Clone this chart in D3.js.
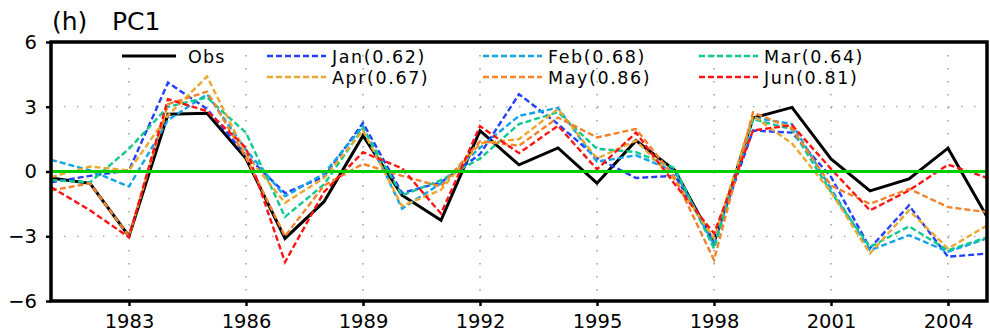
<!DOCTYPE html>
<html lang="en">
<head>
<meta charset="UTF-8">
<title>PC1</title>
<script src="https://cdn.jsdelivr.net/npm/d3@7"></script>
<style>
  body { margin: 0; background: #fff; }
  svg text { font-family: "DejaVu Sans", sans-serif; fill: #000; }
</style>
</head>
<body>
<script>
// data
var years = d3.range(1981, 2006);
var obs = [-0.3,-0.55,-3.0,2.65,2.7,0.6,-3.1,-1.4,1.66,-1.1,-2.26,1.89,0.31,1.09,-0.54,1.43,0.05,-3.3,2.48,2.97,0.58,-0.9,-0.34,1.08,-2.1];
var jan = [-0.5,-0.2,0.05,4.12,2.9,0.75,-1.0,-0.25,2.25,-1.0,-0.5,0.8,3.58,2.2,0.62,-0.3,-0.2,-3.25,1.9,1.8,-0.25,-3.55,-1.57,-3.95,-3.8];
var feb = [0.54,0.05,-0.7,2.38,3.58,1.0,-1.15,-0.1,2.1,-1.72,-0.55,1.1,2.58,2.95,0.45,0.75,0.0,-3.4,2.5,2.2,-0.8,-3.65,-2.95,-3.72,-3.1];
var mar = [-0.4,-0.5,1.05,3.0,3.43,1.8,-2.1,-0.6,2.0,-1.1,-0.4,0.6,2.2,2.75,1.05,0.9,0.15,-3.57,2.43,1.95,-0.95,-3.5,-2.54,-3.65,-3.05];
var apr = [-0.26,0.23,0.05,2.6,4.4,0.8,-1.45,-0.3,1.9,-1.6,-0.85,1.3,1.5,2.9,0.6,1.43,-0.4,-3.1,2.58,1.3,-0.95,-3.8,-1.8,-3.57,-2.5];
var may = [-0.88,-0.55,-3.0,3.12,3.7,0.65,-3.0,-0.65,0.35,-0.2,-0.7,1.4,1.2,2.5,1.58,1.97,-0.3,-4.1,2.74,2.0,-0.65,-1.5,-0.8,-1.65,-1.88];
var jun = [-0.72,-1.8,-3.05,3.35,2.8,1.1,-4.2,-0.95,0.89,0.15,-1.95,2.1,0.85,2.12,0.1,1.8,-0.6,-2.87,1.9,2.15,0.12,-1.8,-0.88,0.32,-0.29];

var months = ["Jan","Feb","Mar","Apr","May","Jun"];
var corr = [0.62,0.68,0.64,0.67,0.86,0.81];
var colors = ["#2140ff","#12a4e8","#10c98e","#eaa830","#f2832c","#ff1414"];
var xTicks = [1983,1986,1989,1992,1995,1998,2001,2004];
var yTicks = [-6,-3,0,3,6];

var width = 990, height = 335, margin = {t:42, r:3, b:34, l:51};
var svg = d3.select("body").append("svg").attr("width", width).attr("height", height);

var x = d3.scaleLinear().domain([1981, 2005]).range([margin.l, width - margin.r]);
var y = d3.scaleLinear().domain([-6, 6]).range([height - margin.b, margin.t]);

// dotted grid
svg.append("g").selectAll("line").data(xTicks).enter().append("line")
    .attr("x1", d => x(d)).attr("x2", d => x(d))
    .attr("y1", y(6)).attr("y2", y(-6))
    .attr("stroke", "#888").attr("stroke-width", 1.2).attr("stroke-dasharray", "1.5,11.5");
svg.append("g").selectAll("line").data([-3, 3]).enter().append("line")
    .attr("x1", x(1981)).attr("x2", x(2005))
    .attr("y1", d => y(d)).attr("y2", d => y(d))
    .attr("stroke", "#888").attr("stroke-width", 1.2).attr("stroke-dasharray", "1.5,11.5");

// series
var series = [jan, feb, mar, apr, may, jun];
var line = d3.line().x((d, i) => x(years[i])).y(d => y(d));

svg.append("path").datum(obs).attr("d", line)
    .attr("fill", "none").attr("stroke", "#000").attr("stroke-width", 3)
    .attr("stroke-linejoin", "miter");

series.forEach(function (s, k) {
    svg.append("path").datum(s).attr("d", line)
        .attr("fill", "none").attr("stroke", colors[k]).attr("stroke-width", 2.4)
        .attr("stroke-dasharray", "6,3");
});

// zero line
svg.append("line")
    .attr("x1", x(1981)).attr("x2", x(2005)).attr("y1", y(0)).attr("y2", y(0))
    .attr("stroke", "#00d000").attr("stroke-width", 3);

// axes
var xAxis = d3.axisBottom(x).tickValues(xTicks).tickFormat(d3.format("d")).tickSize(5).tickPadding(8);
var yAxis = d3.axisLeft(y).tickValues(yTicks).tickSize(5).tickPadding(9)
    .tickFormat(d => d < 0 ? "\u2212" + Math.abs(d) : d);

var gx = svg.append("g").attr("transform", "translate(0," + y(-6) + ")").call(xAxis);
var gy = svg.append("g").attr("transform", "translate(" + x(1981) + ",0)").call(yAxis);
[gx, gy].forEach(function (g) {
    g.select(".domain").remove();
    g.selectAll(".tick line").attr("stroke", "#000").attr("stroke-width", 2.5);
    g.selectAll(".tick text").attr("font-size", 19.5).attr("fill", "#000");
});

// frame
svg.append("rect")
    .attr("x", x(1981)).attr("y", y(6))
    .attr("width", x(2005) - x(1981)).attr("height", y(-6) - y(6))
    .attr("fill", "none").attr("stroke", "#000").attr("stroke-width", 3.5);

// title
svg.append("text").attr("x", 52).attr("y", 30).attr("font-size", 25).text("(h)");
svg.append("text").attr("x", 112).attr("y", 30).attr("font-size", 25).text("PC1");

// legend
var lg = svg.append("g");
lg.append("line").attr("x1", 122).attr("x2", 176).attr("y1", 56).attr("y2", 56)
    .attr("stroke", "#000").attr("stroke-width", 3);
lg.append("text").attr("x", 188).attr("y", 62.5).attr("font-size", 17.5)
    .attr("letter-spacing", 1.2).text("Obs");

months.forEach(function (m, k) {
    var col = k % 3, row = Math.floor(k / 3);
    var lx = 267 + col * 216, ly = 56 + row * 21;
    lg.append("line").attr("x1", lx).attr("x2", lx + 59).attr("y1", ly).attr("y2", ly)
        .attr("stroke", colors[k]).attr("stroke-width", 2.4).attr("stroke-dasharray", "6,3");
    lg.append("text").attr("x", lx + 65).attr("y", ly + 6.5).attr("font-size", 17.5)
        .attr("letter-spacing", 1.6)
        .text(m + "(" + corr[k].toFixed(2) + ")");
});
</script>
</body>
</html>
